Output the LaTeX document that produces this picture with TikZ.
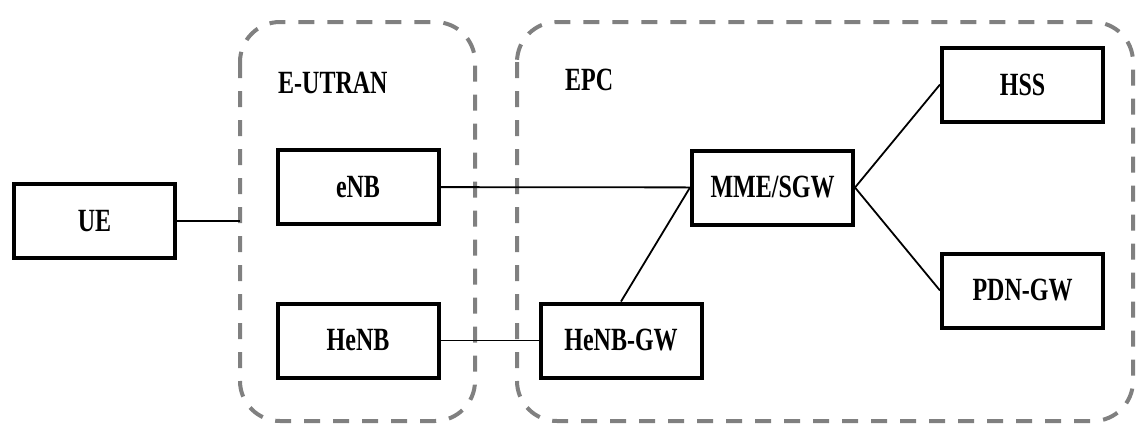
\documentclass[tikz,border=0pt]{standalone}
\usepackage{fontspec}
\setmainfont{Liberation Serif}
\usepackage{graphicx}
\usepackage{tikz}
\usetikzlibrary{positioning}

% tall bold text, as in the figure
\newcommand{\lbl}[1]{\scalebox{1}[1.35]{\bfseries #1}}

\tikzset{
  unit/.style={draw, line width=4pt, minimum width=161pt, minimum height=74pt,
    inner sep=0pt, font=\fontsize{24}{28}\selectfont},
  region/.style={draw=black!50, line width=4pt, dash pattern=on 16pt off 13pt,
    rounded corners=40pt},
  link/.style={line width=1.8pt},
  tag/.style={anchor=west, inner sep=0pt, font=\fontsize{24}{28}\selectfont}
}

\begin{document}
\begin{tikzpicture}[x=1pt,y=-1pt]
  \useasboundingbox (0,0) rectangle (1137,426);
  %
  % Regions
  \draw[region] (240,22) rectangle (475,421);
  \draw[region] (517,22) rectangle (1133,421);
  \node[tag] (utran) at (278,83) {\lbl{E-UTRAN}};
  \node[tag] (epc) at (565,80) {\lbl{EPC}};
  %
  % Units
  \node[unit] (ue) at (94.5,221) {\lbl{UE}};
  \node[unit] (enb) at (358,187) {\lbl{eNB}};
  \node[unit] (henb) at (358,340.5) {\lbl{HeNB}};
  \node[unit] (henbgw) at (621,340.5) {\lbl{HeNB-GW}};
  \node[unit] (mme) at (772.5,187.5) {\lbl{MME/SGW}};
  \node[unit] (hss) at (1022.5,84.5) {\lbl{HSS}};
  \node[unit] (pdn) at (1022.5,290.5) {\lbl{PDN-GW}};
  \coordinate (edge) at (240,221);
  %
  % Links
  \draw[link] (ue) -- (edge);
  \draw[link] (enb) -- (mme);
  \draw[link] (henb) -- (henbgw);
  \draw[link] (henbgw.north) -- (mme.west);
  \draw[link] (mme.east) -- (hss.west);
  \draw[link] (mme.east) -- (pdn.west);
  %
\end{tikzpicture}
\end{document}
